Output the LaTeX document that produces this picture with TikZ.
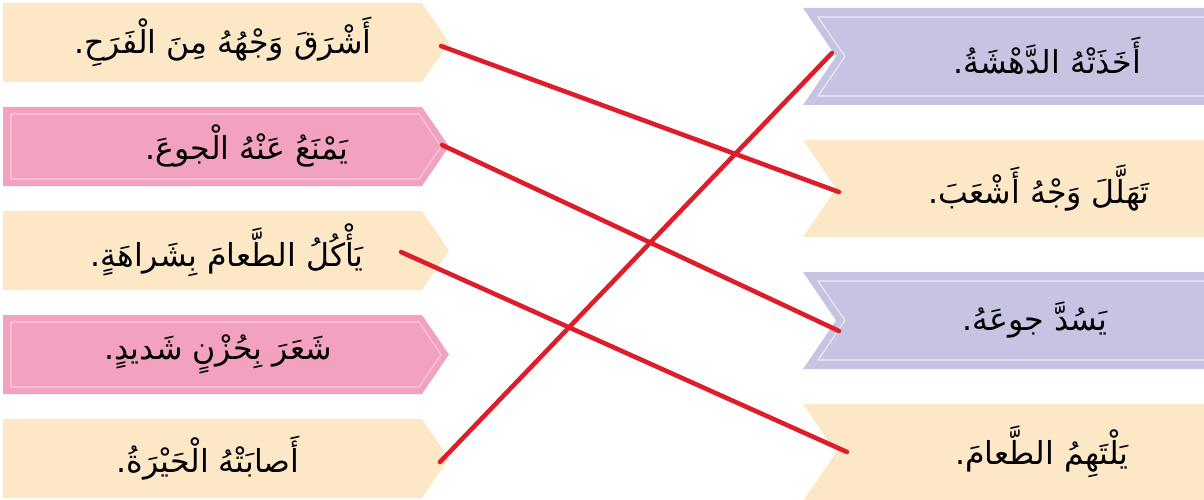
\documentclass[tikz,border=0pt]{standalone}
\usepackage{fontspec}
\newfontfamily\arabicfont[Script=Arabic]{DejaVu Sans}
\TeXXeTstate=1
\definecolor{sand}{HTML}{FCE8C6}
\definecolor{rose}{HTML}{F2A2C0}
\definecolor{roseline}{HTML}{F9CCDC}
\definecolor{lilac}{HTML}{C6C4E2}
\definecolor{lilacline}{HTML}{EDECF8}
\definecolor{penred}{HTML}{DD1E2A}

\begin{document}
\begin{tikzpicture}[x=0.02cm, y=-0.02cm,
  phrase/.style={font=\arabicfont\fontsize{18}{21}\selectfont},
  match/.style={penred, line width=2.6pt, line cap=round}]
  \useasboundingbox (0, 0) rectangle (1204, 500);

  % left column, pointing right
  \fill[sand] (3, 3) -- (422, 3) -- (449, 42.5) -- (422, 82) -- (3, 82) -- cycle;
  \fill[rose] (3, 107) -- (422, 107) -- (449, 146.5) -- (422, 186) -- (3, 186) -- cycle;
  \draw[roseline, line width=.6pt] (11, 114) -- (419, 114) -- (441, 146.5) -- (419, 179) -- (11, 179) -- cycle;
  \fill[sand] (3, 211) -- (422, 211) -- (449, 250.5) -- (422, 290) -- (3, 290) -- cycle;
  \fill[rose] (3, 315) -- (422, 315) -- (449, 354.5) -- (422, 394) -- (3, 394) -- cycle;
  \draw[roseline, line width=.6pt] (11, 322) -- (419, 322) -- (441, 354.5) -- (419, 387) -- (11, 387) -- cycle;
  \fill[sand] (3, 419) -- (422, 419) -- (449, 458.5) -- (422, 498) -- (3, 498) -- cycle;

  % right column, notched on the left
  \fill[lilac] (803, 8) -- (1210, 8) -- (1210, 105) -- (803, 105) -- (836, 56.5) -- cycle;
  \draw[lilacline, line width=.6pt] (818, 17) -- (1210, 17) -- (1210, 96) -- (818, 96) -- (845, 56.5) -- cycle;
  \fill[sand] (803, 140) -- (1210, 140) -- (1210, 237) -- (803, 237) -- (836, 188.5) -- cycle;
  \fill[lilac] (803, 272) -- (1210, 272) -- (1210, 369) -- (803, 369) -- (836, 320.5) -- cycle;
  \draw[lilacline, line width=.6pt] (818, 281) -- (1210, 281) -- (1210, 360) -- (818, 360) -- (845, 320.5) -- cycle;
  \fill[sand] (803, 404) -- (1210, 404) -- (1210, 501) -- (803, 501) -- (836, 452.5) -- cycle;

  \node[phrase] (shone) at (223, 42) {\beginR أَشْرَقَ وَجْهُهُ مِنَ الْفَرَحِ.\endR};
  \node[phrase] (keepsoff) at (247, 146) {\beginR يَمْنَعُ عَنْهُ الْجوعَ.\endR};
  \node[phrase] (greedy) at (227, 250) {\beginR يَأْكُلُ الطَّعامَ بِشَراهَةٍ.\endR};
  \node[phrase] (sad) at (218, 354) {\beginR شَعَرَ بِحُزْنٍ شَديدٍ.\endR};
  \node[phrase] (puzzled) at (208, 458) {\beginR أَصابَتْهُ الْحَيْرَةُ.\endR};

  \node[phrase] (amazed) at (1047, 56) {\beginR أَخَذَتْهُ الدَّهْشَةُ.\endR};
  \node[phrase] (beamed) at (1039, 188) {\beginR تَهَلَّلَ وَجْهُ أَشْعَبَ.\endR};
  \node[phrase] (fills) at (1035, 320) {\beginR يَسُدَّ جوعَهُ.\endR};
  \node[phrase] (devours) at (1042, 452) {\beginR يَلْتَهِمُ الطَّعامَ.\endR};

  % matching lines
  \coordinate (shonept) at (441, 46);
  \coordinate (keepsoffpt) at (442, 145);
  \coordinate (greedypt) at (401, 252);
  \coordinate (puzzledpt) at (440, 462);
  \coordinate (amazedpt) at (832, 53);
  \coordinate (beamedpt) at (839, 192);
  \coordinate (fillspt) at (839, 331);
  \coordinate (devourspt) at (847, 452);
  \draw[match] (shonept) -- (beamedpt);
  \draw[match] (keepsoffpt) -- (fillspt);
  \draw[match] (greedypt) -- (devourspt);
  \draw[match] (puzzledpt) -- (amazedpt);
\end{tikzpicture}
\end{document}
